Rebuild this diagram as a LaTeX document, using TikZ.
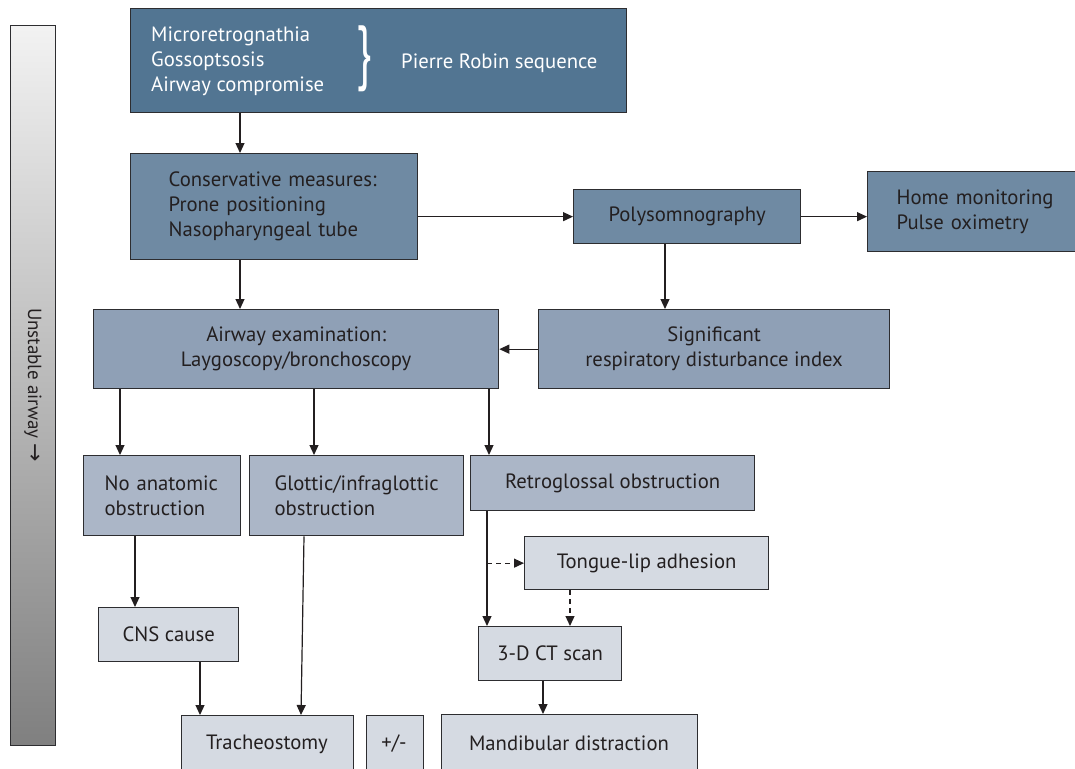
\documentclass[tikz,border=0pt]{standalone}
\usepackage{fontspec}
\setmainfont{PT Sans}
\newfontfamily\symfont{DejaVu Sans}
\usetikzlibrary{arrows.meta}

\definecolor{lvlA}{RGB}{82,117,146}
\definecolor{lvlB}{RGB}{111,138,163}
\definecolor{lvlC}{RGB}{143,160,182}
\definecolor{lvlD}{RGB}{171,182,199}
\definecolor{lvlE}{RGB}{213,218,226}
\definecolor{edge}{RGB}{45,45,48}
\definecolor{ink}{RGB}{35,31,32}

\newcommand{\boxfont}{\fontsize{20.7}{25}\selectfont}

\tikzset{
  box/.style={draw=edge, line width=1.3pt, inner sep=0pt, anchor=north west,
    text=ink, font=\boxfont},
  label/.style={text=ink, inner sep=0pt, font=\boxfont},
  arr/.style={-{Triangle[length=10pt,width=9pt]}, line width=1.2pt, draw=ink},
  dash arr/.style={arr, dash pattern=on 5pt off 4pt},
}

\begin{document}
\begin{tikzpicture}[x=1pt,y=-1pt]
\useasboundingbox (0,0) rectangle (1075,768);
\clip (0,0) rectangle (1075,768);
\fill[white] (0,0) rectangle (1075,768);

% gradient bar on the left
\node[draw=edge, line width=1.2pt, anchor=north west, inner sep=0pt,
  minimum width=45pt, minimum height=720pt,
  top color=black!5, bottom color=black!50] (bar) at (10,25) {};
\node[rotate=-90, text=ink, font=\fontsize{19}{22}\selectfont] (barlabel)
  at (33,385) {Unstable airway {\symfont\fontsize{22}{22}\selectfont →}};

% first row
\node[box, fill=lvlA, minimum width=496pt, minimum height=104pt] (top) at (130,8) {};
\node[label, anchor=west, align=left, text=white] (signs) at (151,61)
  {Microretrognathia\\Gossoptsosis\\Airway compromise};
\node[label, text=white] (brace) at (364,59)
  {\fontsize{50}{50}\selectfont\scalebox{0.9}[1.42]{\}}};
\node[label, anchor=west, text=white] (prs) at (401,63) {Pierre Robin sequence};

% second row
\node[box, fill=lvlB, minimum width=287pt, minimum height=106pt,
  text width=211pt, align=left] (cons) at (130,153)
  {Conservative measures:\\Prone positioning\\Nasopharyngeal tube};
\node[box, fill=lvlB, minimum width=227pt, minimum height=54pt] (poly) at (573,189)
  {Polysomnography};
\node[box, fill=lvlB, minimum width=215pt, minimum height=80pt,
  text width=157pt, align=left] (home) at (867,171)
  {Home monitoring\\Pulse oximetry};

% third row
\node[box, fill=lvlC, minimum width=405pt, minimum height=79pt, align=center] (exam)
  at (93,309) {Airway examination:\\Laygoscopy/bronchoscopy};
\node[box, fill=lvlC, minimum width=351pt, minimum height=79pt, align=center] (sig)
  at (538,309) {Significant\\respiratory disturbance index};

% fourth row
\node[box, fill=lvlD, minimum width=157pt, minimum height=80pt,
  text width=115pt, align=left] (noanat) at (83,455) {No anatomic\\obstruction};
\node[box, fill=lvlD, minimum width=214pt, minimum height=80pt,
  text width=164pt, align=left] (glottic) at (249,455) {Glottic/infraglottic\\obstruction};
\node[box, fill=lvlD, minimum width=284pt, minimum height=55pt] (retro) at (470,455)
  {Retroglossal obstruction};

% lower rows
\node[box, fill=lvlE, minimum width=244pt, minimum height=53pt] (tongue) at (524,536)
  {Tongue-lip adhesion};
\node[box, fill=lvlE, minimum width=140pt, minimum height=54pt] (cns) at (98,607)
  {CNS cause};
\node[box, fill=lvlE, minimum width=143pt, minimum height=54pt] (ct) at (478,626)
  {3-D CT scan};
\node[box, fill=lvlE, minimum width=172pt, minimum height=60pt] (trach) at (181,715) {};
\node[label] (trachlabel) at (267,744) {Tracheostomy};
\node[box, fill=lvlE, minimum width=57pt, minimum height=60pt] (pm) at (366,715) {};
\node[label] (pmlabel) at (394,744) {+/-};
\node[box, fill=lvlE, minimum width=256pt, minimum height=60pt] (mand) at (441,714) {};
\node[label] (mandlabel) at (569,743) {Mandibular distraction};

% connectors
\draw[arr] ([xshift=110pt]top.south west) -- ([xshift=110pt]cons.north west);
\draw[arr] (poly.west -| cons.east) -- (poly.west);
\draw[arr] (poly.east) -- (poly.east -| home.west);
\coordinate (polyout) at ([xshift=92pt]poly.south west);
\draw[arr] (polyout) -- (polyout |- sig.north);
\coordinate (consout) at ([xshift=110pt]cons.south west);
\draw[arr] (consout) -- (consout |- exam.north);
\draw[arr] (sig.west) -- (sig.west -| exam.east);

\coordinate (examA) at ([xshift=27pt]exam.south west);
\coordinate (examB) at ([xshift=221pt]exam.south west);
\coordinate (examC) at ([xshift=396pt]exam.south west);
\draw[arr] (examA) -- (examA |- noanat.north);
\draw[arr] (examB) -- (examB |- glottic.north);
\draw[arr] (examC) -- (examC |- retro.north);

\coordinate (noanatout) at ([xshift=52pt]noanat.south west);
\draw[arr] (noanatout) -- (noanatout |- cns.north);
\coordinate (cnsout) at ([xshift=102pt]cns.south west);
\draw[arr] (cnsout) -- (cnsout |- trach.north);
\draw[arr] ([xshift=55pt]glottic.south west) -- ([xshift=120pt]trach.north west);

\coordinate (retroout) at ([xshift=17pt]retro.south west);
\draw[arr] (retroout) -- (retroout |- ct.north);
\draw[dash arr] (tongue.west -| retroout) -- (tongue.west);
\coordinate (tongueout) at ([xshift=46pt]tongue.south west);
\draw[dash arr] (tongueout) -- (tongueout |- ct.north);
\coordinate (ctout) at ([xshift=65pt]ct.south west);
\draw[arr] (ctout) -- (ctout |- mand.north);
\end{tikzpicture}
\end{document}
